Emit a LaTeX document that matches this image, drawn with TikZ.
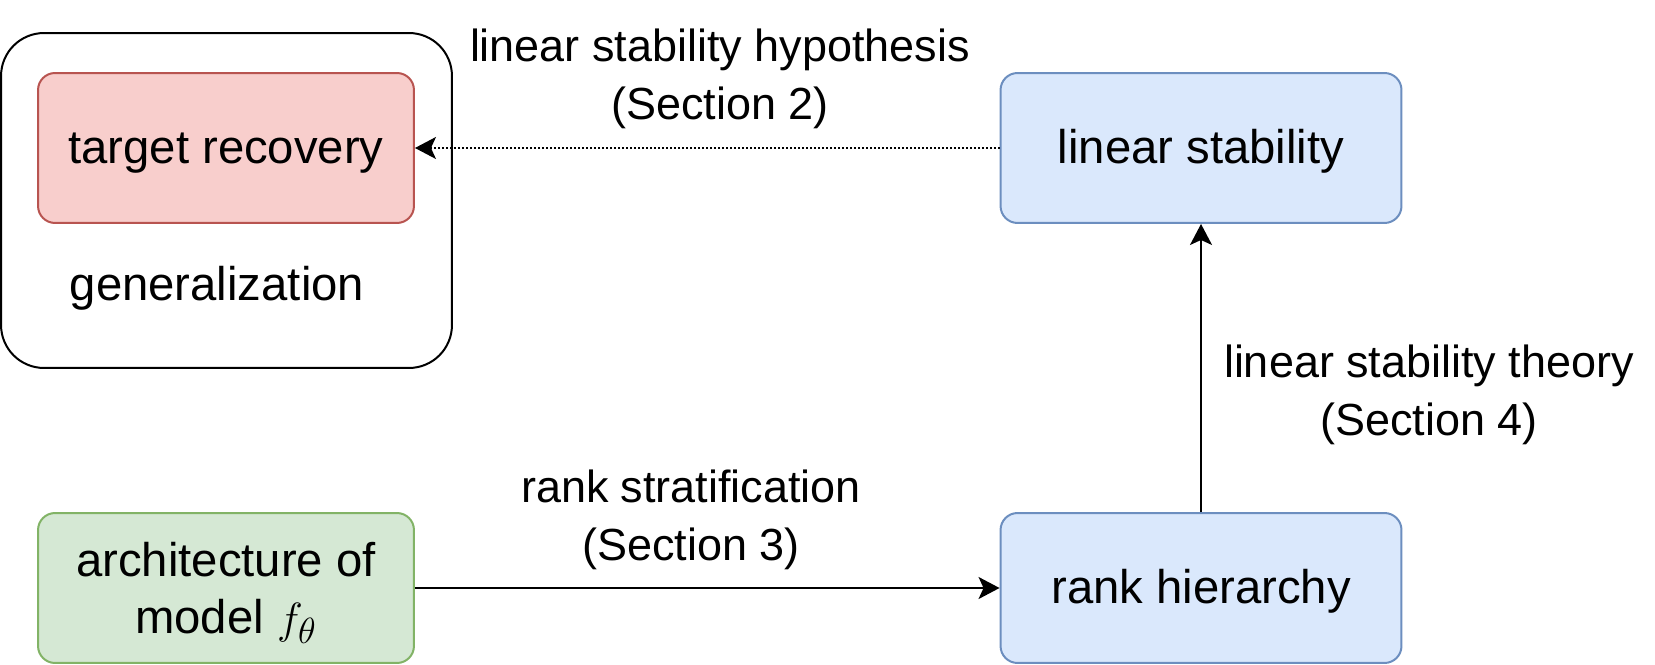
\documentclass[tikz,border=0pt]{standalone}
\usepackage{fontspec}
\setmainfont{Liberation Sans}
\usetikzlibrary{arrows.meta}
\definecolor{figredfill}{HTML}{F8CECC}
\definecolor{figred}{HTML}{B85450}
\definecolor{figbluefill}{HTML}{DAE8FC}
\definecolor{figblue}{HTML}{6C8EBF}
\definecolor{figgreenfill}{HTML}{D5E8D4}
\definecolor{figgreen}{HTML}{82B366}

\begin{document}
\begin{tikzpicture}[x=0.02cm,y=-0.02cm,
  every node/.style={font=\fontsize{26.9}{32.7}\selectfont},
  box/.style={draw,rounded corners=0.34cm,line width=0.04cm,minimum height=3cm,align=center,inner sep=0pt},
  oneline/.style={text height=22pt,text depth=4.8pt},
  edgelabel/.style={align=center,font=\fontsize{25.6}{32.7}\selectfont},
  link/.style={-{Stealth[length=0.42cm,width=0.44cm,inset=0.1cm]},line width=0.04cm}]
\useasboundingbox (0,0) rectangle (1655,665);
\node[draw,rounded corners=0.86cm,line width=0.04cm,minimum width=9.02cm,minimum height=6.7cm] (genbox) at (226.5,200.5) {};
\node (gen) at (217,288) {generalization};
\node[box,oneline,fill=figredfill,draw=figred,minimum width=7.52cm] (target) at (226,148) {target recovery};
\node[box,oneline,fill=figbluefill,draw=figblue,minimum width=8.02cm] (linstab) at (1201,148) {linear stability};
\node[box,fill=figgreenfill,draw=figgreen,minimum width=7.52cm] (arch) at (226,588) {\rule{0pt}{25pt}architecture of\\model {\fontsize{32.3}{32.7}\selectfont$f_\theta$}};
\node[box,oneline,fill=figbluefill,draw=figblue,minimum width=8.02cm] (rank) at (1201,588) {rank hierarchy};
\draw[link,line width=0.03cm,dash pattern=on 0.04cm off 0.04cm] (linstab.west) -- (target.east);
\draw[link] (arch.east) -- (rank.west);
\draw[link] (rank.north) -- (linstab.south);
\node[edgelabel] (hyp) at (720,79) {linear stability hypothesis\\(Section 2)};
\node[edgelabel] (strat) at (691,520) {rank stratification\\(Section 3)};
\node[edgelabel] (theory) at (1429,395) {linear stability theory\\(Section 4)};
\end{tikzpicture}
\end{document}
